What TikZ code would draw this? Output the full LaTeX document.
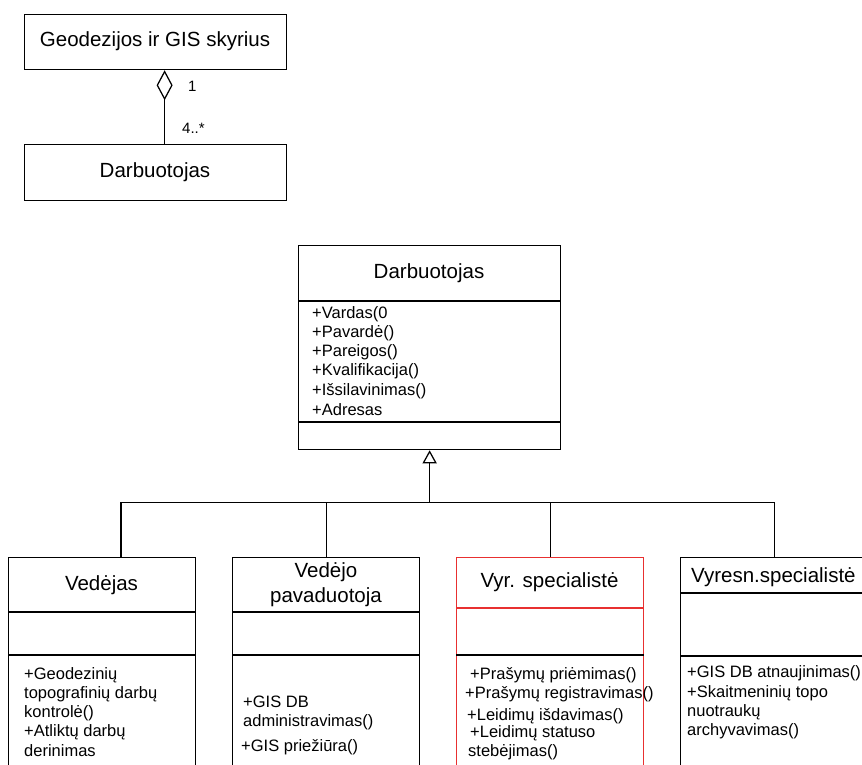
\documentclass[tikz,border=0pt]{standalone}
\usepackage{fontspec}
\setmainfont{Liberation Sans}
\usetikzlibrary{arrows.meta,calc}
\definecolor{boxred}{RGB}{232,48,48}
\tikzset{
  box/.style={draw, line width=1.25pt, anchor=north west, inner sep=0pt},
  title/.style={font=\fontsize{20.5}{24.5}\selectfont, inner sep=0pt, align=center},
  member/.style={font=\fontsize{16.5}{19}\selectfont, inner sep=0pt, anchor=west},
  mult/.style={font=\fontsize{15}{17}\selectfont, inner sep=0pt},
  link/.style={line width=1.25pt},
  sep/.style={line width=1.25pt},
}
\begin{document}
\begin{tikzpicture}[x=1pt,y=-1pt]
\useasboundingbox (0,0) rectangle (862,764);
\clip (0,0) rectangle (862,764);
\fill[white] (0,0) rectangle (862,764);

% ---- aggregation: department and its employees ----
\node[box, minimum width=262pt, minimum height=55pt] (geo) at (24,14) {};
\node[title] (geot) at (155,41.5) {Geodezijos ir GIS skyrius};
\node[box, minimum width=262pt, minimum height=56pt] (dsm) at (24,144) {};
\node[title] (dsmt) at (155,172) {Darbuotojas};
\coordinate (aggA) at ($(geo.south)+(9,0)$);
\coordinate (aggB) at ($(dsm.north)+(9,0)$);
\draw[link, {Diamond[open, length=30pt, width=16pt, line width=1.25pt]}-] (aggA) -- (aggB);
\node[mult, anchor=west] (m1) at (188,86) {1};
\node[mult, anchor=west] (m2) at (182,128) {4..*};

% ---- employee base class ----
\node[box, minimum width=262pt, minimum height=204pt] (emp) at (298,245) {};
\node[title] (empt) at (429,273) {Darbuotojas};
\draw[sep] ($(emp.north west)+(0,56)$) -- ($(emp.north east)+(0,56)$);
\draw[sep] ($(emp.north west)+(0,177)$) -- ($(emp.north east)+(0,177)$);
\node[member] (e1) at (312,314) {+Vardas(0};
\node[member] (e2) at (312,333.2) {+Pavardė()};
\node[member] (e3) at (312,352.4) {+Pareigos()};
\node[member] (e4) at (312,371.6) {+Kvalifikacija()};
\node[member] (e5) at (312,390.8) {+Išsilavinimas()};
\node[member] (e6) at (312,410) {+Adresas};

% ---- subclasses ----
\node[box, minimum width=187pt, minimum height=220pt] (v1) at (8,557) {};
\node[box, minimum width=187pt, minimum height=220pt] (v2) at (232,557) {};
\node[box, draw=boxred, minimum width=187pt, minimum height=220pt] (v3) at (456,557) {};
\node[box, minimum width=188pt, minimum height=220pt] (v4) at (680,557) {};

\draw[sep] ($(v1.north west)+(0,55)$) -- ($(v1.north east)+(0,55)$);
\draw[sep] ($(v1.north west)+(0,98)$) -- ($(v1.north east)+(0,98)$);
\draw[sep] ($(v2.north west)+(0,55)$) -- ($(v2.north east)+(0,55)$);
\draw[sep] ($(v2.north west)+(0,98)$) -- ($(v2.north east)+(0,98)$);
\draw[sep, boxred] ($(v3.north west)+(0,51)$) -- ($(v3.north east)+(0,51)$);
\draw[sep] ($(v3.north west)+(0,98)$) -- ($(v3.north east)+(0,98)$);
\draw[sep] ($(v4.north west)+(0,36)$) -- ($(v4.north east)+(0,36)$);
\draw[sep] ($(v4.north west)+(0,99)$) -- ($(v4.north east)+(0,99)$);

\node[title] (v1t) at (101.5,585) {Vedėjas};
\node[title] (v2t) at (326,584.5) {Vedėjo\\pavaduotoja};
\node[title] (v3t) at (549.5,582) {Vyr. specialistė};
\node[title, anchor=west] (v4t) at (691,577) {Vyresn.specialistė};

\node[member] (a1) at (24,675) {+Geodezinių};
\node[member] (a2) at (24,694) {topografinių darbų};
\node[member] (a3) at (24,713) {kontrolė()};
\node[member] (a4) at (24,732) {+Atliktų darbų};
\node[member] (a5) at (24,751) {derinimas};

\node[member] (b1) at (243,702) {+GIS DB};
\node[member] (b2) at (243,722) {administravimas()};
\node[member] (b3) at (241,747) {+GIS priežiūra()};

\node[member] (c1) at (470,675) {+Prašymų priėmimas()};
\node[member] (c2) at (465,694) {+Prašymų registravimas()};
\node[member] (c3) at (467,716) {+Leidimų išdavimas()};
\node[member] (c4) at (470,733) {+Leidimų statuso};
\node[member] (c5) at (468,752) {stebėjimas()};

\node[member] (d1) at (687,673) {+GIS DB atnaujinimas()};
\node[member] (d2) at (687,693) {+Skaitmeninių topo};
\node[member] (d3) at (687,712) {nuotraukų};
\node[member] (d4) at (687,731) {archyvavimas()};

% ---- generalization tree ----
\coordinate (bus) at ($(emp.south)+(0,52)$);
\coordinate (v1top) at ($(v1.north west)+(113,0)$);
\draw[link, -{Triangle[open, length=13pt, width=14pt, line width=1.25pt]}] (bus) -- (emp.south);
\draw[link] (v1top) |- (bus) -| (v4.north);
\draw[link] (v2.north) -- (v2.north |- bus);
\draw[link] (v3.north) -- (v3.north |- bus);
\end{tikzpicture}
\end{document}
